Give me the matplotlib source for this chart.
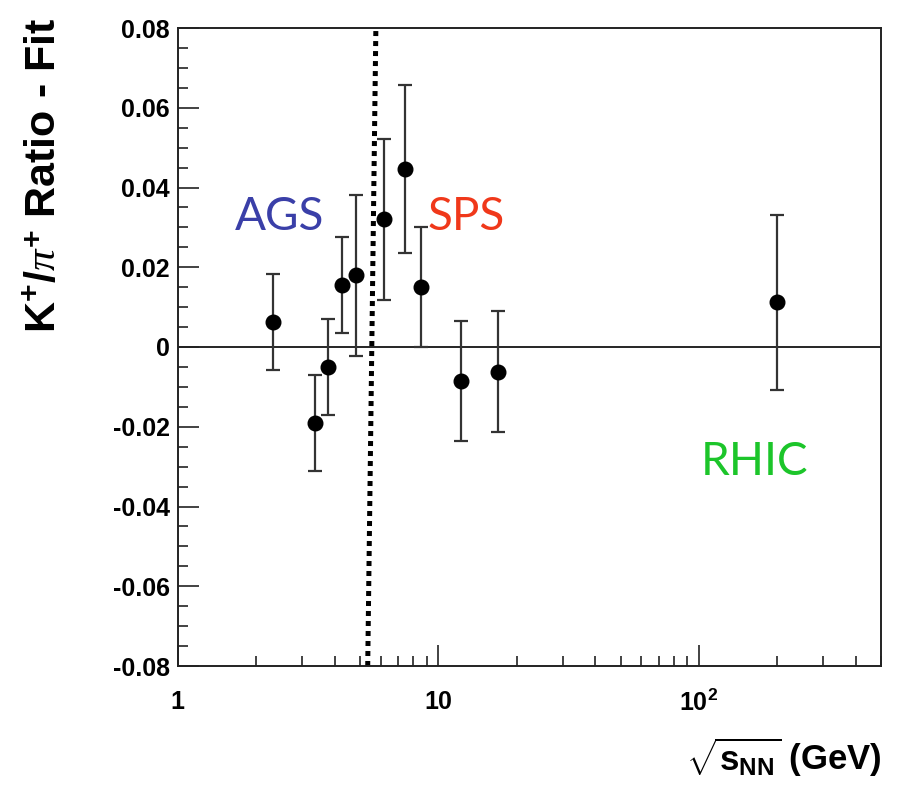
import matplotlib
matplotlib.use("Agg")
import matplotlib.pyplot as plt
from matplotlib.ticker import FixedLocator, FixedFormatter, LogLocator, NullFormatter, MultipleLocator

plt.rcParams['font.family'] = ['Liberation Sans', 'DejaVu Sans']
plt.rcParams['mathtext.fontset'] = 'custom'
plt.rcParams['mathtext.rm'] = 'Liberation Sans'
plt.rcParams['mathtext.bf'] = 'Liberation Sans:bold'
plt.rcParams['mathtext.it'] = 'Liberation Serif:italic'

# energies (GeV) and K+/pi+ ratio minus fit, with errors
sqrt_s = [2.31, 3.35, 3.78, 4.27, 4.84, 6.17, 7.45, 8.59, 12.2, 17.0, 200.0]
resid = [0.0062, -0.0191, -0.0050, 0.0156, 0.0180, 0.0320, 0.0446, 0.0150, -0.0086, -0.0062, 0.0112]
err = [0.0120, 0.0120, 0.0120, 0.0120, 0.0202, 0.0202, 0.0210, 0.0150, 0.0150, 0.0152, 0.0220]

# dotted separation line (bottom, top)
sep_x = [5.35, 5.75]
sep_y = [-0.08, 0.08]

yticks = [-0.08, -0.06, -0.04, -0.02, 0, 0.02, 0.04, 0.06, 0.08]
ylabels = ['-0.08', '-0.06', '-0.04', '-0.02', '0', '0.02', '0.04', '0.06', '0.08']
xticks = [1, 10, 100]
xlabels = [r'$\mathbf{1}$', r'$\mathbf{10}$', r'$\mathbf{10^{2}}$']

fig = plt.figure(figsize=(9.01, 7.91), dpi=100)
ax = fig.add_axes([178/901, 1-666/791, (881-178)/901, (666-28)/791])

ax.set_xscale('log')
ax.set_xlim(1, 500)
ax.set_ylim(-0.08, 0.08)

ax.axhline(0, color='black', lw=1.2, zorder=1)
ax.plot(sep_x, sep_y, color='black', lw=3.6, linestyle=(0, (1, 1)),
        dash_capstyle='butt', zorder=2)

ax.errorbar(sqrt_s, resid, yerr=err, fmt='o', color='black', ms=10.5,
            ecolor='#333333', elinewidth=1.6, capsize=5, capthick=1.6, zorder=3)

ax.xaxis.set_major_locator(FixedLocator(xticks))
ax.xaxis.set_major_formatter(FixedFormatter(xlabels))
ax.xaxis.set_minor_locator(LogLocator(base=10, subs=range(2, 10)))
ax.xaxis.set_minor_formatter(NullFormatter())
ax.yaxis.set_major_locator(FixedLocator(yticks))
ax.yaxis.set_major_formatter(FixedFormatter(ylabels))
ax.yaxis.set_minor_locator(MultipleLocator(0.005))

ax.tick_params(which='both', direction='in', top=False, right=False, width=1.2, color='#222222')
ax.tick_params(which='major', length=15, labelsize=18)
ax.tick_params(which='minor', length=7.2)
ax.tick_params(axis='x', which='major', pad=17)
ax.tick_params(axis='y', which='major', pad=6)
for lab in ax.get_yticklabels():
    lab.set_fontweight('bold')
for sp in ax.spines.values():
    sp.set_linewidth(1.4)
    sp.set_color('#222222')

lab_font = ['Lato', 'DejaVu Sans']
ax.text(2.46, 0.0326, 'AGS', color='#3a3fa8', fontsize=33, family=lab_font,
        ha='center', va='center')
ax.text(12.8, 0.0326, 'SPS', color='#f0381a', fontsize=33, family=lab_font,
        ha='center', va='center')
ax.text(163, -0.0288, 'RHIC', color='#1cc52a', fontsize=33, family=lab_font,
        ha='center', va='center')

fig.text(45/901, 1-18/791, r'$\mathbf{K^{+}/}\pi^{\mathbf{+}}$ Ratio - Fit', rotation=90,
         ha='center', va='top', fontsize=31, fontweight='bold')
fig.text(882/901, 1-757/791, r'$\sqrt{\mathbf{s}_{\mathbf{NN}}}$ (GeV)',
         ha='right', va='center', fontsize=25, fontweight='bold')

fig.savefig('out.png', dpi=100)
